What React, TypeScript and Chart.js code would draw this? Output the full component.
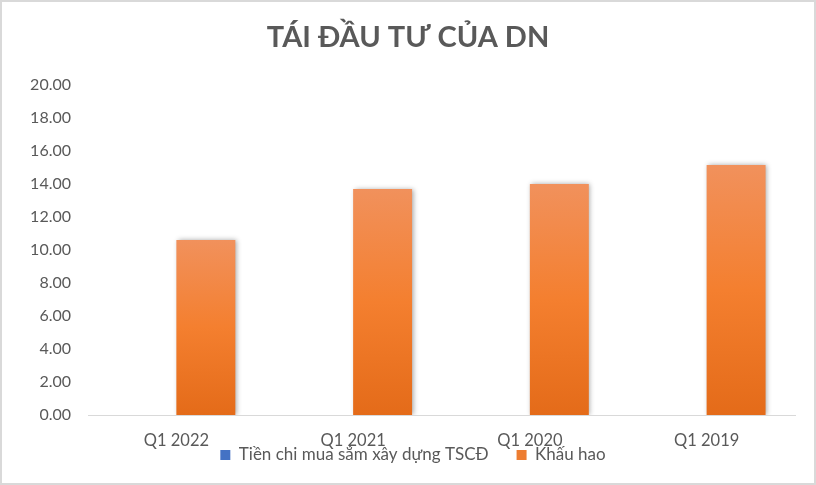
import { useEffect, useRef } from "react";
import { Chart, registerables } from "chart.js";

Chart.register(...registerables);

const chartTitle = "TÁI ĐẦU TƯ CỦA DN";
const categories = ["Q1 2022", "Q1 2021", "Q1 2020", "Q1 2019"];
const seriesNames = ["Tiền chi mua sắm xây dựng TSCĐ", "Khấu hao"];
const capexValues = [0, 0, 0, 0];
const depreciationValues = [10.6, 13.7, 14.0, 15.15];
const yMin = 0;
const yMax = 20;
const yStep = 2;

const TEXT = "#595959";
const FONT = "Lato";
const legendColors = ["#4472C4", "#ED7D31"];

const framePlugin = {
  id: "frame",
  beforeDraw(chart: any) {
    const { ctx, width, height } = chart;
    ctx.save();
    ctx.fillStyle = "#ffffff";
    ctx.fillRect(0, 0, width, height);
    ctx.strokeStyle = "#d9d9d9";
    ctx.lineWidth = 2;
    ctx.strokeRect(1, 1, width - 2, height - 2);
    ctx.restore();
  },
};

// Excel-like layout: legend overlaps the axis label band, title/legend centred on full width
const layoutPlugin = {
  id: "excelLayout",
  afterLayout(chart: any) {
    const lg = chart.legend;
    if (lg) {
      lg.top = 418.5;
      lg.height = 55;
      lg.bottom = 473.5;
      lg.left = 10;
      lg.right = chart.width;
      lg.width = chart.width - 10;
    }
    const t = chart.titleBlock;
    if (t) {
      t.left = 0;
      t.right = chart.width;
      t.width = chart.width;
    }
  },
};

const shadowPlugin = {
  id: "barShadow",
  beforeDatasetDraw(chart: any) {
    const ctx = chart.ctx;
    ctx.save();
    ctx.shadowColor = "rgba(0,0,0,0.35)";
    ctx.shadowBlur = 5;
    ctx.shadowOffsetX = 1.5;
    ctx.shadowOffsetY = 0;
  },
  afterDatasetDraw(chart: any) {
    chart.ctx.restore();
  },
};

function gradientFor(stops: string[], fallback: string) {
  return (c: any) => {
    const chart = c.chart;
    const y = chart.scales && chart.scales.y;
    if (!y || c.type !== "data") return fallback;
    const top = y.getPixelForValue(c.raw as number);
    const bottom = y.getPixelForValue(0);
    if (!isFinite(top) || !isFinite(bottom) || Math.abs(top - bottom) < 1) return fallback;
    const g = chart.ctx.createLinearGradient(0, top, 0, bottom);
    g.addColorStop(0, stops[0]);
    g.addColorStop(0.5, stops[1]);
    g.addColorStop(1, stops[2]);
    return g;
  };
}

export default function App() {
  const ref = useRef<HTMLCanvasElement | null>(null);

  useEffect(() => {
    document.body.style.margin = "0";
    if (!ref.current) return;
    const chart = new Chart(ref.current, {
      type: "bar",
      data: {
        labels: categories,
        datasets: [
          {
            label: seriesNames[0],
            data: capexValues,
            backgroundColor: gradientFor(["#5B86D2", "#4472C4", "#3A63B0"], "#4472C4"),
            borderWidth: 0,
          },
          {
            label: seriesNames[1],
            data: depreciationValues,
            backgroundColor: gradientFor(["#F1915C", "#F47F2F", "#E46B19"], "#ED7D31"),
            borderWidth: 0,
          },
        ],
      },
      options: {
        responsive: false,
        animation: false,
        devicePixelRatio: 1,
        layout: { padding: { left: 0, right: 21, top: 0, bottom: 20 } },
        datasets: {
          bar: { categoryPercentage: 0.667, barPercentage: 1 },
        },
        plugins: {
          title: {
            display: true,
            text: chartTitle,
            color: TEXT,
            font: { family: FONT, size: 29, weight: "bold" },
            padding: { top: 20, bottom: 30.2 },
          },
          legend: {
            display: true,
            position: "bottom",
            maxHeight: 14,
            labels: {
              color: TEXT,
              font: { family: FONT, size: 17 },
              boxWidth: 10,
              boxHeight: 10,
              padding: 28,
              generateLabels: () =>
                seriesNames.map((t, i) => ({
                  text: t,
                  fillStyle: legendColors[i],
                  strokeStyle: legendColors[i],
                  lineWidth: 0,
                  hidden: false,
                  datasetIndex: i,
                  fontColor: TEXT,
                })),
            },
          },
          tooltip: { enabled: false },
        },
        scales: {
          x: {
            grid: { display: false, drawTicks: false },
            border: { display: true, color: "#d9d9d9", width: 1 },
            ticks: {
              color: TEXT,
              font: { family: FONT, size: 16.5 },
              padding: 16,
              maxRotation: 0,
            },
            afterFit: (s: any) => {
              s.height = 36;
            },
          },
          y: {
            min: yMin,
            max: yMax,
            grid: { display: false, drawTicks: false },
            border: { display: false },
            ticks: {
              stepSize: yStep,
              color: TEXT,
              font: { family: FONT, size: 16 },
              padding: 17,
              callback: (v: any) => Number(v).toFixed(2),
            },
            afterFit: (s: any) => {
              s.width = 88;
            },
          },
        },
      } as any,
      plugins: [framePlugin, layoutPlugin, shadowPlugin],
    });
    return () => chart.destroy();
  }, []);

  return (
    <div style={{ width: 816, height: 485 }}>
      <canvas ref={ref} width={816} height={485} />
    </div>
  );
}
